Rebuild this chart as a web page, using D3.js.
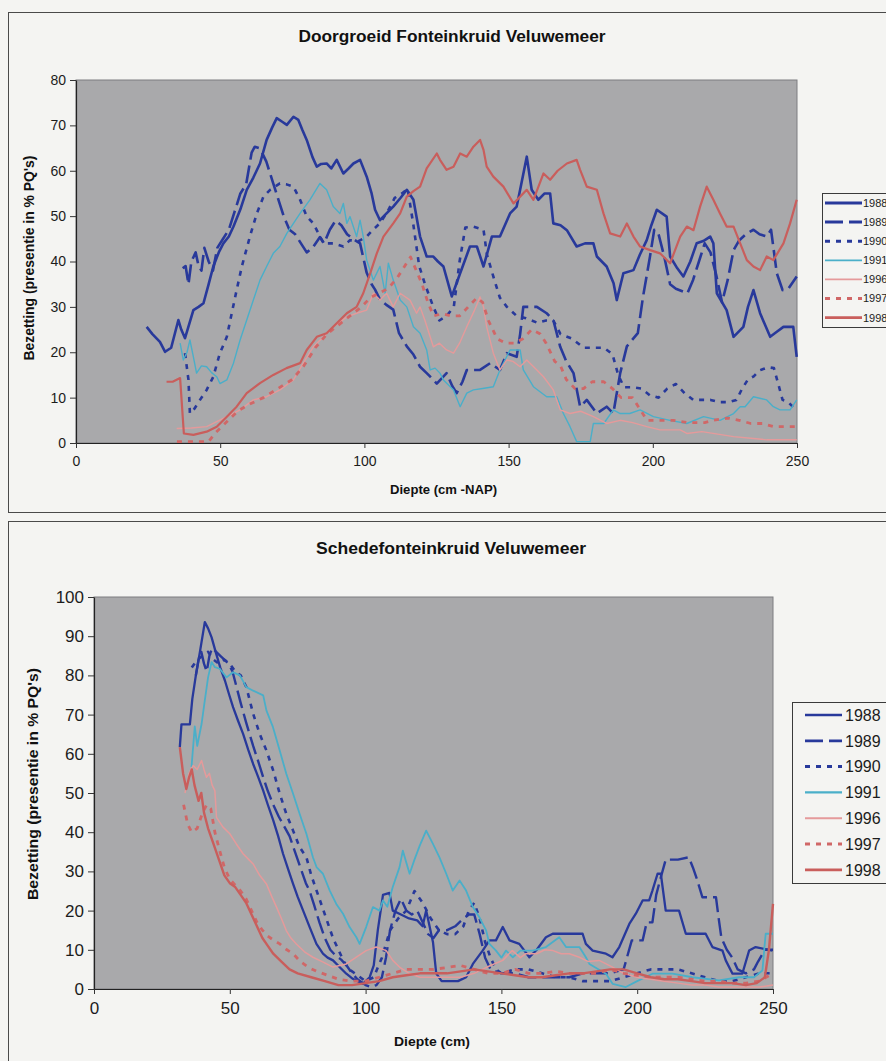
<!DOCTYPE html>
<html><head><meta charset="utf-8">
<script src="https://cdn.jsdelivr.net/npm/d3@7"></script>
<style>
html,body{margin:0;padding:0;background:#f4f4f2;}
svg{display:block;font-family:"Liberation Sans",Arial,Helvetica,sans-serif;}
</style></head><body>
<svg id="c" width="886" height="1061"></svg>
<script>
// ---------- shared labels ----------
const years = ["1988","1989","1990","1991","1996","1997","1998"];
const xTicks = [0,50,100,150,200,250];
const topYTicks = [0,10,20,30,40,50,60,70,80];
const botYTicks = [0,10,20,30,40,50,60,70,80,90,100];
const topTitle = "Doorgroeid Fonteinkruid Veluwemeer";
const botTitle = "Schedefonteinkruid Veluwemeer";
const topXTitle = "Diepte (cm -NAP)";
const botXTitle = "Diepte (cm)";
const yTitle = "Bezetting (presentie in % PQ's)";

// ---------- top chart data: [depth, value] ----------
const top1988 = [[24.5,25.6],[26.5,24],[29.1,22.3],[30.9,20.1],[33,21],[35.5,27.1],[36.5,25],[37.8,23.1],[40.7,29.3],[42.5,30],[44.2,30.8],[46,35],[47.6,38.9],[49.5,42],[51.1,44],[53,45.5],[54.6,47.7],[57,51.5],[59.2,55.8],[61.5,58.5],[63.8,61.6],[66.1,66.8],[68,69.5],[69.6,71.6],[71.5,70.8],[73.1,70.1],[75.4,71.9],[77.1,71.2],[78.5,69],[80,66.8],[82,63],[83.5,60.9],[85,61.5],[86.9,61.6],[88.5,60.5],[90.4,62.4],[92.7,59.4],[94.5,60.5],[96.2,61.6],[98.5,62.4],[100.8,58.7],[102.5,55],[103.7,51.4],[105.4,49.1],[107.5,50.5],[110,52.1],[112.5,54],[114.7,55.8],[117,53.6],[119.3,45.5],[121.6,41.1],[123.9,41.1],[125.5,40],[127.4,38.9],[130.3,32.3],[133.2,37.4],[136.6,43.3],[139,43.3],[141.3,38.9],[144.2,45.5],[147,45.5],[150.5,50.6],[152.8,52.1],[154,55.8],[156.3,63.1],[158,55.8],[160.3,53.6],[162.5,55],[164.4,55],[165.5,48.4],[168,48],[170.2,46.9],[173.6,43.3],[176.5,44],[179.4,44],[180.6,41.1],[184,38.9],[186.4,35.2],[187.5,31.5],[189.8,37.4],[193.3,38.1],[195.5,41.5],[197.9,44.7],[199.5,48],[201.4,51.4],[204.8,49.9],[206,41.1],[208.5,38.5],[210.6,36.7],[213,40],[215.2,44],[217.5,44.5],[219.9,45.5],[221,44],[222.2,33],[225.6,29.3],[228,23.4],[231.4,25.6],[233,30],[234.9,33.7],[237.2,28.6],[240.7,23.4],[243,24.5],[245.3,25.6],[248.7,25.6],[249.9,19]];
const top1989 = [[37,38.5],[38,39],[39,35],[40,40],[41.5,42],[42.5,39],[43.5,38],[44.5,43],[46,40],[47.5,38],[49,43],[51,45],[53,47],[55,51],[57,55],[59,57],[60.9,64],[62,65.3],[63.5,65],[64.5,64],[66,62],[68,58],[70,54],[72,50],[74,47],[76,46],[78,44],[80,42],[82,43],[84.6,45.4],[86,44],[88,47],[90,49],[92,48],[94,46],[96,45],[98.5,44],[100.8,37.5],[102.5,35],[103.7,33.8],[105.4,31.6],[107.5,30.5],[110,29.4],[112,24.2],[114.7,21.3],[117,19.5],[119.3,16.8],[121.6,15.4],[123,14.5],[125.1,13.1],[128.5,15.4],[130.5,12.5],[132,11],[134,13.5],[135.5,16.1],[140.1,16.1],[143.6,17.6],[147,16.1],[149.4,19.8],[152.8,19],[154,24],[155.1,30],[159.8,30],[163.2,28.6],[165.5,27.1],[167.9,21.2],[170,18],[172.5,15.4],[174.8,8],[177.1,9.5],[180.6,6.5],[184,8],[186.3,6.5],[188.7,15.4],[191,21.3],[194.8,24.2],[196.6,32.2],[199,41],[200.5,47],[202,46],[204,41],[206,35],[208,34],[210,33.5],[212,33],[214,36],[216,40],[218,44],[220,42],[222,37],[224,31],[226,36],[228,42.5],[230,44.7],[232.6,46.2],[234.9,47],[237,46],[239.5,45.5],[241,47],[243,37.4],[245,33.7],[247,34],[249.9,36.7]];
const top1990 = [[37.8,19.8],[39,13.9],[39.5,6.5],[41,7.5],[43,9.5],[45.3,11.7],[47.6,14.6],[49.9,19.8],[52.3,23.4],[54,28.6],[55.7,33.7],[57.5,38.9],[60.3,45.5],[62.7,50.6],[65,54.3],[67.3,55.8],[70.7,57.2],[73,57],[75.4,56.5],[77.7,53.6],[80,49.9],[82.3,48.4],[85.8,44],[89.2,44],[92.7,43.3],[95,44.7],[98,44.5],[100.8,45.5],[103,47],[105.5,48.5],[108,51],[110.5,54],[113,55],[115,56],[117,48],[119,39],[121,35],[123.9,30],[126,27],[128.5,28],[131,30],[133,40],[135,47.5],[137.8,47.7],[141.3,47],[142.5,41.5],[144.7,36.7],[147,32],[149.4,30],[152.8,28],[156,27.5],[160,26.5],[163,27],[165.5,27],[168,24],[172,23],[176,21],[180,21],[183,21],[186,19.6],[188,15],[190,12.3],[193,12.3],[196,12],[199,10.5],[202,10],[205,12],[208,13],[211,11],[214,9.5],[217,9.5],[220,9.5],[223,9],[226,9],[229,9.5],[231,12],[233,14],[235,14.7],[237,16],[240,16.7],[242,16.5],[243.5,13],[245,9.5],[247,9],[248.5,8],[250,7]];
const top1991 = [[36.1,22],[37.2,18.3],[38.5,20],[39.5,22.7],[40.7,19],[41.8,15.4],[43.5,17],[45.3,16.8],[47,15.5],[48.8,14.6],[49.9,13.1],[52.3,13.9],[54.6,17.6],[56.9,22.7],[59.2,27.1],[61.5,31.5],[63.8,35.9],[66.1,38.9],[68.4,41.8],[70.7,43.3],[73.1,46.2],[75.4,48.4],[77.7,50.6],[81.1,53.6],[84.6,57.2],[86.9,55.8],[89.2,52.1],[91.5,50.6],[92.7,52.8],[93.9,48.4],[95,49.9],[97.3,45.5],[98.5,49.1],[99.6,45.5],[100.8,40.3],[103.1,35.9],[105.4,38.9],[107.2,33],[108.3,39.6],[110,35.9],[112.4,31.5],[114.7,30],[117,25.6],[119.3,24.2],[121.6,20.5],[122.8,16.1],[124.5,16.5],[126.2,15.4],[127.4,13.9],[130.9,11.7],[133.2,8],[135.5,11],[137.8,11.7],[141,12],[144.7,12.4],[147,16.1],[150.5,20.5],[154,20.5],[155.1,16.1],[158.6,12.4],[163.2,10.2],[166.7,10.2],[169,6.5],[171.3,3.6],[173.6,0.3],[178.3,0.3],[179.4,4.3],[183,4.3],[186.3,7.3],[188.7,6.5],[192,6.5],[195.6,7.3],[200.2,5.8],[206,5],[211.8,4.3],[217.6,5.8],[223.3,5],[228,6.5],[230.3,8],[232,8],[234.9,10.2],[239.5,9.5],[241.8,8],[244.1,7.3],[247.6,7.3],[249.9,9.5]];
const top1996 = [[34.9,3.2],[40,3.3],[45.3,3.6],[47.6,4.3],[52.3,5.8],[56.9,7.3],[61.5,9.5],[66.1,10.2],[70.7,11.7],[75.4,13.9],[78.8,17.6],[82.3,21.2],[85.8,23.4],[89.2,25.6],[93.9,27.8],[97.3,28.6],[100.8,29.3],[103.1,33],[105.4,31.5],[107.7,33],[110,30],[112.4,33],[115.8,31.5],[118.1,28.6],[119.3,30],[121,27],[123.9,21.2],[126,22],[128.5,20.5],[130.9,19.8],[133,22],[135.5,25.6],[138,29],[140.1,32.2],[141.3,30],[142.4,25.6],[144.7,19.8],[147,16.1],[149.4,18.3],[151.5,18],[154,16.8],[156.3,18.3],[159.8,16.1],[162.1,14.6],[165.5,11.7],[167.9,7.3],[171.3,6.5],[175,7],[179.4,5.8],[184,4.3],[188.7,5],[193,4.5],[197.9,3.6],[202.5,2.9],[209.5,2.9],[211.8,2.1],[217,2.5],[222,2],[228,1.4],[234.9,1],[239.5,0.7],[249.9,0.7]];
const top1997 = [[35,0.3],[40,0.3],[46,0.3],[48,2],[52,4.5],[56,7],[60,8.5],[65,10],[70,12],[75,14],[79,17],[83,21],[87,24],[91,26],[95,28],[99,30],[102,32],[105,33],[108,34],[111,36],[114,39],[116,41],[118,38],[120,35],[122,31],[124,28],[127,28.5],[130,28],[133,28],[136,30],[139,32],[141,31],[143,27],[146,23],[149,22],[152,22],[155,23],[158,25],[161,24],[163,22],[166,18],[168,17],[170,14],[173,12],[176,12],[179,13.5],[183,13.5],[186,12],[189,10],[193,10],[196,7],[198,5],[203,5],[207,5],[212,4.5],[218,4.5],[221,5],[226,5.5],[230,5],[234,4.3],[238,4.3],[242,3.6],[246,3.6],[250,3.6]];
const top1998 = [[31.4,13.5],[33.5,13.5],[36.1,14.3],[37.4,2.1],[40.7,1.8],[45.3,2.5],[48.8,3.6],[52.3,5.8],[55.7,8],[59.2,11],[63.8,13.2],[68.4,15],[73,16.5],[77.7,17.6],[80,20.5],[83.5,23.4],[86.9,24.2],[90.4,26.4],[93.9,28.6],[97.3,30],[99.6,33],[102,37.4],[104.3,41.8],[106.6,45.5],[110,48.4],[112.4,50.6],[114.7,54.3],[117,55.5],[119.3,56.5],[121.6,60.5],[125.1,63.8],[126.2,62.4],[128.5,60.2],[130.9,60.9],[133.2,63.8],[135.5,63.1],[137.8,65.3],[140.1,66.8],[141.3,64.6],[142.4,60.9],[144.7,58.7],[148.2,56.5],[151.7,52.8],[154,54.3],[156.3,55.8],[158.6,53.6],[162.1,59.4],[164.4,58],[167,60],[170.2,61.6],[173.6,62.4],[174.8,60.2],[177.1,56.5],[180.6,55.8],[182.9,50.6],[185.2,46.2],[188.7,45.5],[191,48.4],[193.3,45.5],[195.6,43.3],[199.1,42.5],[202.5,41.8],[206,39.6],[209.5,45.5],[211.8,47.7],[214.1,46.9],[216.4,52.1],[218.7,56.5],[221,53.6],[223.3,50.6],[225.6,47.7],[228,47.7],[230.3,44],[232.6,40.3],[234.9,38.9],[237.2,38.1],[239.5,41.1],[241.8,40.3],[245.3,44],[247.6,48.4],[249.9,53.6]];

// ---------- bottom chart data: [depth, value] ----------
const bot1988 = [[31.6,61.7],[32.2,67.5],[35.3,67.5],[36.2,74],[37.5,80],[39,86],[40.8,93.6],[42,92],[43.3,89.7],[45,85.5],[46.5,82],[48.2,78.7],[49.8,75],[51.2,71.9],[53,68.5],[54.9,65.1],[56.8,61],[58.6,57.4],[60.5,54],[62.3,50.6],[64,47],[66,43],[67.8,39],[69.6,34.5],[71.5,30.5],[73.3,26.8],[75,23.5],[77,20],[79.4,15.8],[81.9,11.5],[84.3,9],[86,8],[88,7.3],[90.4,5.6],[92.9,3.9],[95.3,2.6],[99,1.3],[101.5,3],[103,6],[104.5,15],[106.4,24],[108.8,24.5],[110,20],[113,19],[116,18],[119,17.5],[121,16],[122.3,20],[124.8,12],[126,4],[128,2],[131,2],[134,2],[137,3],[139.5,6.4],[143.1,9.8],[145.6,12.4],[148,12.4],[150.5,15.8],[153,12.4],[156.6,11.5],[160.3,8.1],[163,10],[166.4,13.2],[168.9,14.1],[175,14.1],[179.9,14.1],[181.1,11.5],[183.6,9.8],[188.5,9],[190.9,8.1],[193.4,10.7],[197.1,16.6],[199.5,19.2],[202,22.6],[204.4,22.6],[205.6,25.1],[207.5,29.4],[208.7,29.4],[210.5,20],[215.4,20],[217.9,14.1],[225.2,14.1],[227.7,10.7],[231.4,9.8],[232.6,7.3],[235.1,3.9],[238.7,3.9],[241.2,9.8],[243.6,10.7],[249.8,9.8]];
const bot1989 = [[37.5,80],[38.5,84],[39.5,86],[40.5,83],[41.5,81],[42.5,85],[43.5,87],[45,86],[46.5,85],[48,84],[49.5,83],[51,81],[52.5,77],[54,73],[56,68],[58.6,62],[60.5,58],[62.3,54],[64,50.5],[66,47],[68,44],[70,41.5],[72,39],[74,35],[76,31],[78,27],[79.4,25],[81,21.5],[83,17],[85,13],[87,10],[89,8.5],[91,7.5],[93,6],[95,4],[97,2.5],[100,1],[102,0.5],[104,1],[106,3],[107.5,8],[109,15],[111,20],[113,23],[115,20],[117,19],[119,20],[121,17],[123,14],[125,13],[127,15],[130,15],[133,16],[136,18],[138,19],[140,19],[142,14],[144,8],[146,5],[150,4],[155,4],[160,3],[165,3],[170,3],[175,3],[180,4],[185,4],[190,4],[195,5],[198,12.4],[202,12.4],[203.5,17],[205.6,17],[207,24],[208.5,28],[210.5,33],[215,33],[219,33.6],[220.5,31],[222,28],[224,23.4],[229,23.4],[230,18],[231,13],[233,10],[235,8],[237,5],[240,4],[243,5],[244.5,7],[247,10],[250,10]];
const bot1990 = [[36,82],[38,84],[40,85],[42,86],[44,84],[46,83],[48,84],[50,83],[52,81],[54,80],[56.1,77],[58.6,70.2],[61,65.1],[63.5,60.8],[66,55.7],[68.4,49.8],[70.8,44.7],[73.3,40.4],[75.7,36.2],[78.2,33.6],[80,29],[82,25],[84,21],[86,17],[88,13],[90,10],[92,7],[94,5],[96,4],[98,3],[100,2],[103,3],[106,8],[109,15],[112,18],[115,20],[118,25],[121,22],[124,18],[127,15],[130,14],[133,14],[136,16],[138,20],[140,22],[142,18],[144,12],[146,8],[148,5],[150,4],[155,5],[160,5],[165,4],[170,3],[175,3],[180,2],[185,2],[190,2],[195,3],[200,4],[205,5],[210,5],[215,5],[220,4],[225,3],[230,2],[235,2],[240,3],[245,4],[250,4]];
const bot1991 = [[35.9,56.6],[37.1,67],[38,62],[39.6,67.6],[40.8,73.6],[42,79.5],[43.3,83.4],[44.5,82.1],[46.3,81.7],[48.8,79.5],[51.2,80.8],[53.7,80],[56.1,77],[58.6,76.1],[62.3,74.9],[63.5,71],[65.9,66.8],[68.4,60.8],[70.8,54.9],[73.3,49.8],[75.7,44.7],[78.2,39.6],[80.6,33.6],[82,31],[84.3,29.4],[86.8,25.1],[89.2,21.7],[91.7,19.2],[94.1,15.8],[96.6,13.2],[97.8,11.5],[100.2,15.8],[102.7,20.9],[105.1,20],[106.4,22.6],[108,21],[110,26],[112.5,31.1],[113.7,35.3],[116.2,29.4],[118,33],[119.9,36.5],[122.3,40.4],[124.8,37],[127.2,33.6],[129.7,29.4],[132.1,25.1],[134.6,27.7],[137,25.1],[139.5,20.9],[141.9,18.3],[144.4,14.9],[145.6,11.5],[148,9.8],[150,8],[151.7,9.8],[154.2,8.1],[157,9.8],[161.5,9.8],[166.4,10.7],[171.3,13.2],[173.8,10.7],[178.7,10.7],[181.1,8.1],[182.4,6.4],[188.5,3.9],[191,1.3],[195.8,0.5],[200,2],[205.6,3.9],[213,3.9],[220.3,3],[230.1,2.2],[237.5,3],[243,3],[246.1,4.7],[247.3,14.1],[250,14.1]];
const bot1996 = [[33.5,50],[35,55],[36.5,57],[38,56],[39.6,58.3],[40.5,56],[41.4,54],[42.5,55],[43.5,52],[44.5,50.6],[45.1,43.8],[47.5,41.3],[50,39.6],[52.4,37],[54.9,34.5],[57,33],[58.6,31.9],[61,29],[63.5,26.8],[65.5,23.5],[67.2,20.9],[69,18],[70.8,14.9],[72.5,13],[74.5,11.5],[77.5,9.5],[80.6,8.1],[84,7],[88,5.6],[90.5,6],[92.9,6.4],[96.6,8.1],[100.2,9.8],[103.9,10.7],[107.6,9.8],[110,7.3],[112.5,5.6],[116,4],[120,3],[125,3],[130,3],[135,3],[140,4],[142,4.7],[146,6],[150.5,7.3],[154,9.8],[157,8],[159,9],[163,9],[166,10],[169,9.8],[172,9],[175,9],[178.7,8.1],[182,7],[186,7.3],[190.9,5.6],[195,4],[200,3],[205,2.5],[210,2],[215,1.5],[220,1],[225,1],[230,0.5],[240,0.5],[245,0.5],[250,1]];
const bot1997 = [[33,47],[34.5,42],[36,40],[38,41],[40,45],[41.5,47],[43,46],[44.5,40],[46,36],[48,31],[50,28],[52,26.5],[54,25],[56,23],[58,20],[60,17],[62,15],[64,13.5],[66,12.5],[68.4,11.5],[71,10],[73.3,9],[76,7],[79,5.5],[82,4.5],[86,3.5],[90,2.5],[95,2],[100,2],[105,3],[110,4],[115,5],[120,5],[125,5],[130,5.5],[135,6],[140,5],[145,4],[150,4],[155,5],[160,4],[165,4],[170,4.5],[175,4],[180,4],[185,4],[190,5],[195,4],[200,3.5],[205,3],[210,3],[215,3],[220,2.5],[225,2],[230,2],[235,1.5],[240,1.5],[245,2],[250,4]];
const bot1998 = [[31.6,61.7],[32.8,55],[34,51],[35,54],[36,56],[37,52],[38.5,48],[39.5,50],[40.5,45],[42,41],[44,37],[46,33],[48,29],[50,27],[52,26],[54,24],[56,22],[58,19],[60,16],[62,13],[64,11],[66,9],[69,7],[72,5],[75,4],[80,3],[85,2],[90,1],[95,1],[100,1.5],[105,2],[110,3],[115,3.5],[120,4],[125,4],[130,4],[135,4.5],[140,5],[145,4.5],[150,4],[155,3.5],[160,3],[165,3],[170,3.5],[175,4],[180,4],[185,4.5],[190,5],[195,5],[200,4],[205,3],[210,2.5],[215,2.5],[220,2],[225,1.5],[230,1.5],[235,1.5],[240,1],[244,1.5],[247,3],[248.5,10],[250,21.7]];

const topSeries = [top1988, top1989, top1990, top1991, top1996, top1997, top1998];
const botSeries = [bot1988, bot1989, bot1990, bot1991, bot1996, bot1997, bot1998];

// ---------- styles ----------
const NAVY = "#28399b";
const colors = [NAVY, NAVY, NAVY, "#4aafc9", "#e59a9b", "#d06767", "#c95e5c"];
const dashes = [null, "18,6", "5,6", null, null, "5,6", null];
const widthsTop = [2.6, 2.6, 2.6, 1.4, 1.4, 2.8, 2.2];
const widthsBot = [2.3, 2.4, 2.6, 1.8, 1.5, 2.8, 2.4];

const svg = d3.select("#c");
svg.append("rect").attr("width",886).attr("height",1061).attr("fill","#f4f4f2");

// panel frames
svg.append("rect").attr("x",8.5).attr("y",12.5).attr("width",900).attr("height",500)
  .attr("fill","none").attr("stroke","#4a4a4a").attr("stroke-width",1);
svg.append("rect").attr("x",8.5).attr("y",521.5).attr("width",900).attr("height",600)
  .attr("fill","none").attr("stroke","#4a4a4a").attr("stroke-width",1);

function drawPanel(o) {
  const g = svg.append("g");
  const x = d3.scaleLinear().domain([0,250]).range([o.x0, o.x1]);
  const y = d3.scaleLinear().domain([0,o.ymax]).range([o.y0, o.y1]);
  g.append("rect").attr("x",o.x0).attr("y",o.y1).attr("width",o.x1-o.x0).attr("height",o.y0-o.y1)
    .attr("fill","#a9a9ab").attr("stroke","#7d7d80").attr("stroke-width",1);
  const cid = "clip"+o.id;
  svg.append("clipPath").attr("id",cid).append("rect")
    .attr("x",o.x0).attr("y",o.y1-2).attr("width",o.x1-o.x0+2).attr("height",o.y0-o.y1+3);

  const line = d3.line().x(d=>x(d[0])).y(d=>y(d[1]));
  const lg = g.append("g").attr("clip-path","url(#"+cid+")");
  o.series.forEach((s,i)=>{
    lg.append("path").datum(s).attr("d",line).attr("fill","none")
      .attr("stroke",colors[i]).attr("stroke-width",o.widths[i])
      .attr("stroke-linejoin","round")
      .attr("stroke-dasharray",dashes[i]);
  });

  // axes
  const ay = g.append("g").attr("transform",`translate(${o.x0},0)`)
    .call(d3.axisLeft(y).tickValues(o.yTicks).tickSize(6).tickSizeOuter(0).tickPadding(o.ypad));
  const ax = g.append("g").attr("transform",`translate(0,${o.y0})`)
    .call(d3.axisBottom(x).tickValues(xTicks).tickSize(5).tickSizeOuter(0).tickPadding(o.xpad));
  [ay,ax].forEach(a=>{
    a.selectAll("path").attr("stroke","#222").attr("stroke-width",1.2);
    a.selectAll("line").attr("stroke","#333");
    a.selectAll("text").attr("font-size",o.tickFont).attr("fill","#1c1c1c")
      .attr("font-family",'"Liberation Sans",Arial,sans-serif');
  });

  // titles
  g.append("text").attr("x",o.title[1]).attr("y",o.title[2]).attr("text-anchor","middle")
    .attr("font-weight","bold").attr("font-size",o.title[3]).attr("fill","#111")
    .attr("textLength",o.title[4]).attr("lengthAdjust","spacingAndGlyphs").text(o.title[0]);
  g.append("text").attr("x",o.xt[1]).attr("y",o.xt[2]).attr("text-anchor","middle")
    .attr("font-weight","bold").attr("font-size",o.xt[3]).attr("fill","#111")
    .attr("textLength",o.xt[4]).attr("lengthAdjust","spacingAndGlyphs").text(o.xt[0]);
  g.append("text").attr("transform",`translate(${o.yt[0]},${o.yt[1]}) rotate(-90)`)
    .attr("text-anchor","middle").attr("font-weight","bold").attr("font-size",o.yt[2]).attr("fill","#111")
    .attr("textLength",o.yt[3]).attr("lengthAdjust","spacingAndGlyphs").text(yTitle);

  // legend
  const L = o.legend;
  g.append("rect").attr("x",L.x).attr("y",L.y).attr("width",120).attr("height",L.h)
    .attr("fill","#f4f4f2").attr("stroke","#3a3a3a").attr("stroke-width",1);
  years.forEach((yr,i)=>{
    const yy = L.y0 + i*L.step;
    g.append("line").attr("x1",L.lx0).attr("x2",L.lx1).attr("y1",yy).attr("y2",yy)
      .attr("stroke",colors[i]).attr("stroke-width",o.widths[i]+0.4)
      .attr("stroke-dasharray",dashes[i]);
    g.append("text").attr("x",L.tx).attr("y",yy+L.font*0.36).attr("font-size",L.font)
      .attr("fill","#1c1c1c").text(yr);
  });
}

drawPanel({
  id:"t", x0:76, x1:797, y0:443, y1:80, ymax:80, yTicks:topYTicks,
  series:topSeries, widths:widthsTop, tickFont:14, ypad:4, xpad:8,
  title:[topTitle,452,42,16,307], xt:[topXTitle,443.5,494,13,107], yt:[34,258,14,205],
  legend:{x:822.5,y:193.5,h:134,y0:203,step:19.1,lx0:825,lx1:862,tx:863,font:11}
});
drawPanel({
  id:"b", x0:94, x1:773, y0:989, y1:597, ymax:100, yTicks:botYTicks,
  series:botSeries, widths:widthsBot, tickFont:17, ypad:4, xpad:8,
  title:[botTitle,451,554,16,270], xt:[botXTitle,432,1046,13,76], yt:[38,784,14,232],
  legend:{x:792.5,y:702.5,h:181,y0:715,step:25.8,lx0:805,lx1:842,tx:845,font:16}
});
</script>
</body></html>
